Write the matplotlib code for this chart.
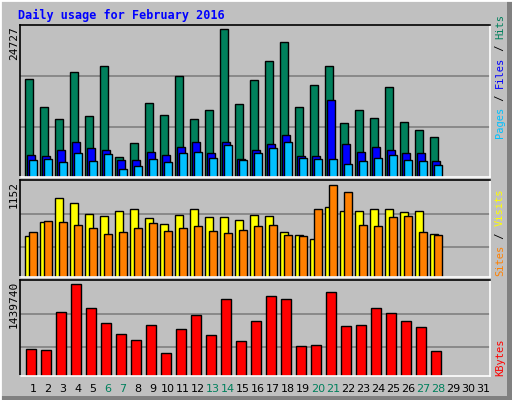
import matplotlib
matplotlib.use('Agg')
import matplotlib.pyplot as plt
import numpy as np

days = np.arange(1, 32)
hits = [16340, 11650, 9630, 17520, 10130, 18520, 3420, 5770, 12320, 10300, 16850, 9630, 11140, 24727,
        12150, 16180, 19360, 22550, 11650, 15340, 18520, 8960, 11140, 9800, 15000, 9130, 7790, 6780]
files = [3760, 3590, 4600, 5940, 4930, 4600, 2920, 2920, 4260, 3760, 5100, 5940, 4090, 5940,
         3090, 4600, 5600, 6950, 3590, 3590, 12820, 5600, 4260, 5100, 4600, 4090, 4090, 2750]
pages = [2920, 3090, 2580, 4090, 2750, 3930, 1410, 1910, 3090, 2580, 4090, 4260, 3260, 5440,
         2920, 4090, 4930, 5940, 3260, 3090, 3090, 2250, 2750, 3260, 3760, 2920, 2750, 2080]
visits = [511, 687, 989, 926, 788, 763, 826, 851, 738, 662, 775, 851, 750, 750,
          712, 775, 763, 561, 524, 473, 876, 826, 826, 851, 851, 813, 826, 536]
sites = [561, 700, 687, 649, 612, 536, 561, 612, 675, 574, 612, 637, 574, 549,
         587, 637, 649, 524, 511, 851, 1152, 1064, 649, 637, 750, 763, 561, 524]
kbytes = [427000, 411000, 1013000, 1439740, 1076000, 839000, 665000, 570000, 807000, 364000,
          744000, 965000, 649000, 1202000, 554000, 870000, 1250000, 1202000, 475000, 490000,
          1313000, 791000, 807000, 1076000, 997000, 870000, 775000, 396000]
weekend = [6, 7, 13, 14, 20, 21, 27, 28]

W, H = 512, 400
fig = plt.figure(figsize=(5.12, 4.0), dpi=100, facecolor='#C0C0C0')

# bevel border
fig.add_artist(plt.Rectangle((0, 0), 1, 1, transform=fig.transFigure, fill=False, ec='#808080', lw=0))
fig.add_artist(plt.Line2D([0, 0], [0, 1], transform=fig.transFigure, color='white', lw=2))
fig.add_artist(plt.Line2D([0, 1], [1, 1], transform=fig.transFigure, color='white', lw=2))
fig.add_artist(plt.Rectangle((507 / W, 0), 5 / W, 1, transform=fig.transFigure, color='#808080', lw=0))
fig.add_artist(plt.Rectangle((0, 0), 1, 4 / H, transform=fig.transFigure, color='#808080', lw=0))

n = len(hits)
x0 = 25 + 15 * np.arange(n)


def panel(top, bottom, ymax, grid):
    ax = fig.add_axes([20 / W, 1 - bottom / H, 470 / W, (bottom - top) / H])
    ax.set_facecolor('#C0C0C0')
    ax.set_xlim(20, 490)
    ax.set_ylim(0, ymax)
    ax.set_xticks([])
    ax.set_yticks([])
    for s in ['left', 'top']:
        ax.spines[s].set_color('black')
    for s in ['right', 'bottom']:
        ax.spines[s].set_color('white')
    for s in ax.spines.values():
        s.set_linewidth(1.2)
    for g in grid:
        ax.axhline(g, color='#808080', lw=1.2, zorder=0)
    return ax


ax1 = panel(25, 177, 25450, [16830, 8340])
ax1.bar(x0, hits, width=8, align='edge', color='#00805C', ec='black', lw=1)
ax1.bar(x0 + 2, files, width=8, align='edge', color='#0000FF', ec='black', lw=1)
ax1.bar(x0 + 4, pages, width=8, align='edge', color='#00C0FF', ec='black', lw=1)

ax2 = panel(180, 277, 1215, [788, 373])
ax2.bar(x0, visits, width=8, align='edge', color='#FFFF00', ec='black', lw=1)
ax2.bar(x0 + 4, sites, width=8, align='edge', color='#FF8000', ec='black', lw=1)

ax3 = panel(280, 376, 1508000, [981000, 459000])
ax3.bar(x0 + 1.3, kbytes, width=10, align='edge', color='#FF0000', ec='black', lw=1)

fig.text(18 / W, 1 - 15 / H, 'Daily usage for February 2016', color='#0000FF',
         family='DejaVu Sans Mono', weight='bold', fontsize=8.5, va='center')

for y, lab in [(26, '24727'), (181, '1152'), (281, '1439740')]:
    fig.text(14 / W, 1 - y / H, lab, rotation=90, fontsize=8, family='DejaVu Sans Mono',
             ha='center', va='top')

for d in days:
    fig.text((33 + 15 * (d - 1)) / W, 1 - 389 / H, str(d), ha='center', va='center', fontsize=8,
             color='#00805C' if d in weekend else 'black')


def side(parts, ybot):
    y = ybot
    for txt, col in parts:
        t = fig.text(500 / W, 1 - y / H, txt, rotation=90, color=col, fontsize=7.5,
                     family='DejaVu Sans Mono', ha='center', va='bottom')
        y -= len(txt) * 6.2


side([('Pages', '#00C0FF'), (' / ', 'black'), ('Files', '#0000FF'), (' / ', 'black'), ('Hits', '#00805C')], 138)
side([('Sites', '#FF8000'), (' / ', 'black'), ('Visits', '#FFFF00')], 276)
side([('KBytes', '#FF0000')], 376)

fig.savefig('out.png', dpi=100, facecolor=fig.get_facecolor())
